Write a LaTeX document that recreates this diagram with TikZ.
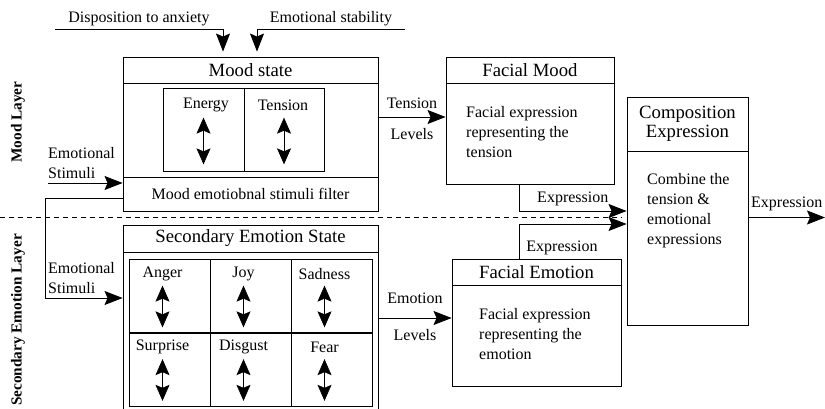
\documentclass[tikz,border=0pt]{standalone}
\usepackage{fontspec}
\setmainfont{Liberation Serif}
\usetikzlibrary{arrows.meta, positioning}
\tikzset{
  box/.style={draw, line width=0.9pt, inner sep=0pt},
  cell/.style={draw, line width=0.7pt, inner sep=0pt},
  title/.style={font=\fontsize{18.7}{19}\selectfont},
  txt/.style={font=\fontsize{16}{20}\selectfont, inner sep=1pt},
  arr/.style={-{Stealth[length=18pt,width=14pt,inset=3pt]}, line width=0.8pt},
  dbl/.style={{Stealth[length=16pt,width=14pt,inset=3pt]}-{Stealth[length=16pt,width=14pt,inset=3pt]}, line width=0.6pt},
  layer/.style={rotate=90, font=\fontsize{15.3}{16}\selectfont\bfseries}
}

\begin{document}
\begin{tikzpicture}[x=1pt, y=-1pt, every node/.style={txt}]
				\useasboundingbox (0,0) rectangle (825,409);
				
				% mood layer
				\node[box, minimum width=255pt, minimum height=154pt] (mood) at (250.5,134) {};
				\node[box, title, minimum width=255pt, minimum height=26pt] (moodtitle) at (250.5,70) {Mood state};
				\node[box, minimum width=255pt, minimum height=34pt] (filter) at (250.5,194) {Mood emotiobnal stimuli filter};
				\node[cell, minimum width=81pt, minimum height=83pt] (energy) at (203.5,129.5) {};
				\node[cell, minimum width=80pt, minimum height=83pt] (tension) at (284,129.5) {};
				\node (energylbl) at (206,105) {Energy};
				\node (tensionlbl) at (283,105) {Tension};
				\draw[dbl] ([yshift=-30pt]energy.north) -- ([yshift=7pt]energy.south);
				\draw[dbl] ([yshift=-30pt]tension.north) -- ([yshift=7pt]tension.south);
				
				\node[box, minimum width=168pt, minimum height=127pt] (fm) at (530,120.5) {};
				\node[box, title, minimum width=168pt, minimum height=26pt] (fmtitle) at (530,70) {Facial Mood};
				\node[anchor=west, align=left] (fmtext) at (465,132) {Facial expression\\representing the\\tension};
				
				% composition
				\node[box, minimum width=121pt, minimum height=228pt] (comp) at (687.5,211) {};
				\node[box, title, align=center, minimum width=121pt, minimum height=54pt] (comptitle) at (687.5,124) {Composition\\Expression};
				\node[anchor=west, align=left] (comptext) at (646,211) {Combine the\\tension \&\\emotional\\expressions};
				
				% secondary emotion layer
				\node[box, minimum width=255pt, minimum height=195pt] (sec) at (250.5,322.5) {};
				\node[box, title, minimum width=255pt, minimum height=27pt] (sectitle) at (250.5,238.5) {Secondary Emotion State};
				\foreach \name/\col/\row/\lbl in {anger/0/0/Anger, joy/1/0/Joy, sadness/2/0/Sadness, surprise/0/1/Surprise, disgust/1/1/Disgust, fear/2/1/Fear} {
					\node[cell, minimum width=81pt, minimum height=74pt] (\name) at (169.5+81*\col, 296+73.5*\row) {};
					\node (\name lbl) at ([xshift=-7pt, yshift=-15pt]\name.north) {\lbl};
					\draw[dbl] ([xshift=-7pt, yshift=-27pt]\name.north) -- ([xshift=-7pt, yshift=6pt]\name.south);
				}
				
				\node[box, minimum width=169pt, minimum height=127pt] (fe) at (536.5,322.5) {};
				\node[box, title, minimum width=169pt, minimum height=26pt] (fetitle) at (536.5,272) {Facial Emotion};
				\node[anchor=west, align=left] (fetext) at (478,334) {Facial expression\\representing the\\emotion};
				
				% layers
				\node[layer] (moodlayer) at (18,122) {Mood Layer};
				\node[layer, anchor=east] (seclayer) at (18,233) {Secondary Emotion Layer};
				\coordinate (divl) at (0,217);
				\coordinate (divr) at (622,217);
				\draw[line width=0.8pt, dash pattern=on 5pt off 4pt] (divl) -- (divr);
				
				% inputs
				\coordinate (disp) at (55,29);
				\draw[arr, shorten >=5pt] (disp) -| node[pos=0.25, above=2pt] (displbl) {Disposition to anxiety} ([xshift=-27.5pt]moodtitle.north);
				\coordinate (stab) at (405,29);
				\draw[arr, shorten >=5pt] (stab) -| node[pos=0.25, above=2pt] (stablbl) {Emotional stability} ([xshift=6.5pt]moodtitle.north);
				
				\node[anchor=west, align=left] (stim1lbl) at (47,163) {Emotional\\Stimuli};
				\coordinate (stim1) at (48,183);
				\draw[arr] (stim1) -- (stim1 -| filter.west);
				\node[anchor=west, align=left] (stim2lbl) at (47,278) {Emotional\\Stimuli};
				\draw[arr] ([yshift=-4pt]filter.west) -- ++(-77,0) |- ([yshift=24.5pt]sec.west);
				
				% levels and expressions
				\draw[arr] ([yshift=17pt]mood.east) -- node[above=7pt] (tensionup) {Tension} node[below=10pt] (tensiondn) {Levels} ([yshift=17pt]mood.east -| fm.west);
				\draw[arr] ([yshift=4.5pt]sec.east) -- node[above=13pt] (emotionup) {Emotion} node[below=10pt] (emotiondn) {Levels} ([yshift=4.5pt]sec.east -| fe.west);
				
				\draw[arr] ([xshift=-11pt]fm.south) |- node[pos=0.75, above=3.5pt] (expmood) {Expression} (comp.west);
				\draw[arr] ([xshift=-17.5pt]fe.north) |- node[pos=0.15, right=6pt] (expemo) {Expression} ([yshift=-13pt]comp.west);
				
				\coordinate (outend) at (825,217.5);
				\draw[arr] ([yshift=-6.5pt]comp.east) -- node[above=5pt] (expout) {Expression} (outend);
			\end{tikzpicture}
\end{document}
